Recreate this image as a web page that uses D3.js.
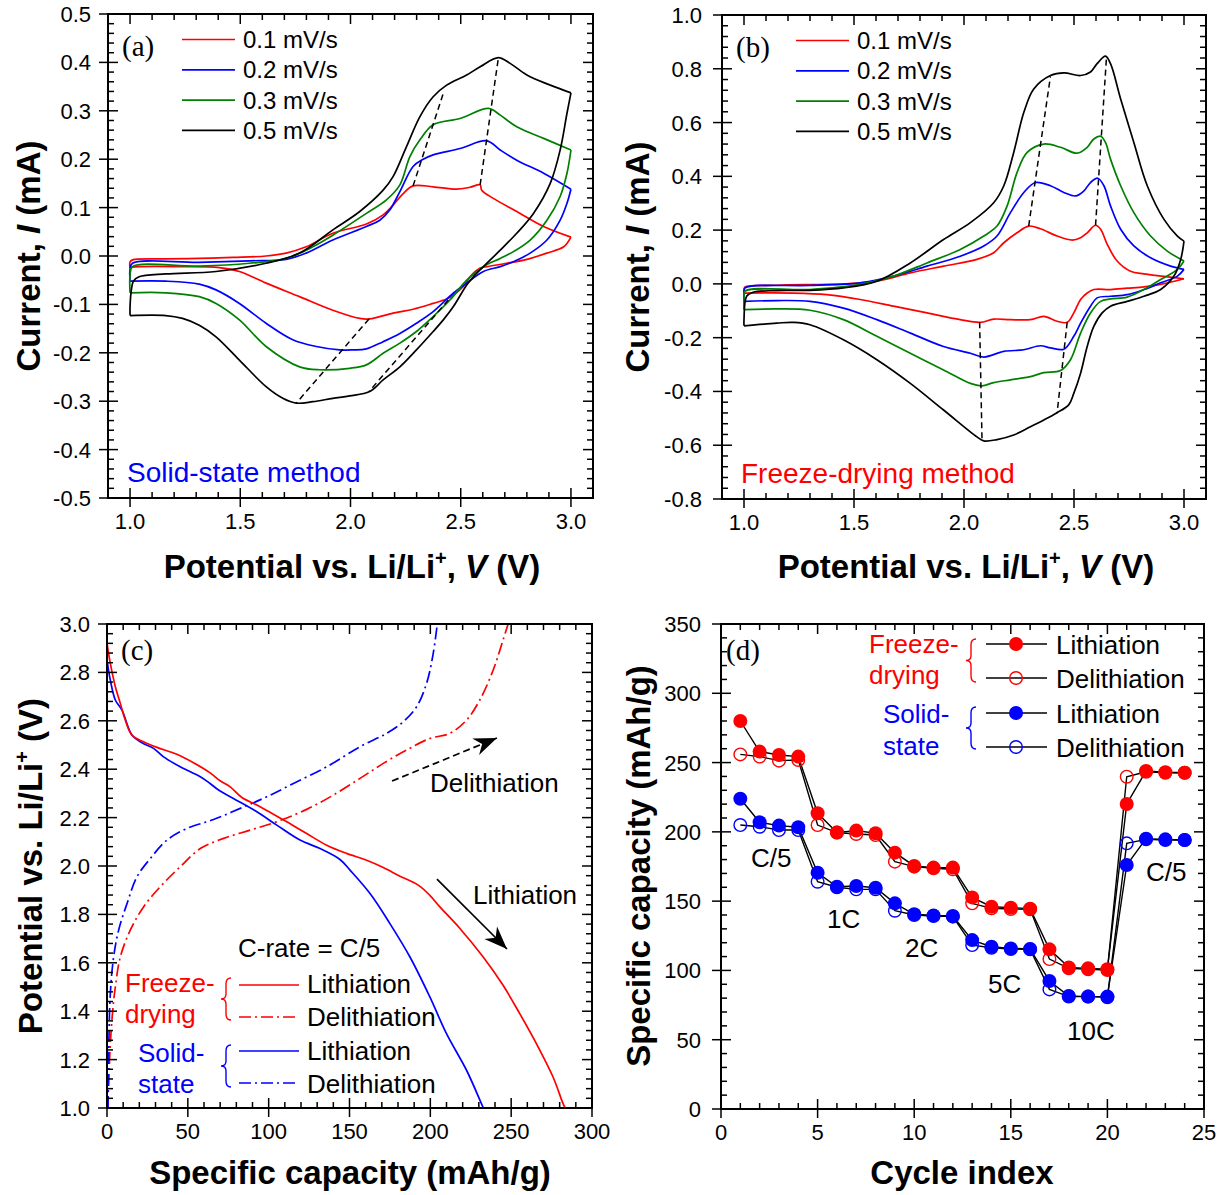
<!DOCTYPE html>
<html><head><meta charset="utf-8">
<script src="https://cdn.jsdelivr.net/npm/d3@7"></script>
<style>body{margin:0;background:#fff}svg{display:block}</style>
</head><body>
<script>
// ---------------- data ----------------
// Scan rates and colours shared by the two cyclic voltammetry panels
const scanLabels = ["0.1 mV/s", "0.2 mV/s", "0.3 mV/s", "0.5 mV/s"];
const scanColors = ["#ff0000", "#0000ff", "#008000", "#000000"];

// (a) solid-state method: [potential V, current mA], anodic (up) and cathodic (down) sweeps
const solidUp01 = [[1.000,-0.025],[1.000,-0.012],[1.011,-0.008],[1.162,-0.006],[1.314,-0.005],[1.466,-0.003],[1.617,0.000],[1.708,0.006],[1.799,0.019],[1.920,0.047],[2.072,0.066],[2.148,0.085],[2.193,0.105],[2.239,0.129],[2.284,0.145],[2.375,0.143],[2.481,0.138],[2.542,0.142],[2.588,0.147],[2.595,0.136],[2.648,0.119],[2.754,0.092],[2.876,0.061],[3.000,0.039]];
const solidDown01 = [[3.000,0.039],[2.967,0.019],[2.891,0.006],[2.800,-0.007],[2.709,-0.015],[2.618,-0.022],[2.588,-0.025],[2.542,-0.043],[2.512,-0.063],[2.466,-0.081],[2.436,-0.089],[2.375,-0.098],[2.284,-0.110],[2.193,-0.118],[2.087,-0.130],[2.042,-0.129],[1.920,-0.112],[1.769,-0.084],[1.617,-0.056],[1.496,-0.032],[1.405,-0.024],[1.238,-0.022],[1.011,-0.023],[1.000,-0.025]];
const solidUp02 = [[1.000,-0.052],[1.000,-0.028],[1.011,-0.015],[1.314,-0.013],[1.541,-0.010],[1.708,-0.007],[1.799,0.006],[1.920,0.033],[2.072,0.061],[2.133,0.074],[2.178,0.095],[2.224,0.133],[2.284,0.185],[2.330,0.200],[2.375,0.209],[2.497,0.222],[2.618,0.238],[2.679,0.219],[2.754,0.198],[2.876,0.171],[3.000,0.138]];
const solidDown02 = [[3.000,0.138],[2.982,0.109],[2.951,0.074],[2.891,0.033],[2.815,0.006],[2.739,-0.012],[2.679,-0.022],[2.603,-0.032],[2.527,-0.056],[2.466,-0.077],[2.375,-0.115],[2.299,-0.139],[2.224,-0.160],[2.148,-0.177],[2.072,-0.192],[2.011,-0.194],[1.951,-0.194],[1.845,-0.187],[1.738,-0.173],[1.617,-0.139],[1.496,-0.098],[1.390,-0.070],[1.314,-0.058],[1.162,-0.052],[1.000,-0.052]];
const solidUp03 = [[1.000,-0.076],[1.000,-0.040],[1.011,-0.022],[1.314,-0.021],[1.541,-0.015],[1.708,-0.005],[1.829,0.019],[1.920,0.043],[2.072,0.088],[2.163,0.116],[2.224,0.147],[2.269,0.205],[2.315,0.240],[2.375,0.271],[2.497,0.284],[2.626,0.305],[2.679,0.291],[2.754,0.267],[2.876,0.243],[3.000,0.219]];
const solidDown03 = [[3.000,0.219],[2.982,0.171],[2.951,0.123],[2.891,0.074],[2.815,0.033],[2.739,0.009],[2.679,-0.005],[2.603,-0.022],[2.527,-0.050],[2.451,-0.091],[2.375,-0.125],[2.299,-0.156],[2.224,-0.180],[2.148,-0.201],[2.072,-0.225],[1.996,-0.232],[1.860,-0.235],[1.769,-0.229],[1.617,-0.187],[1.496,-0.132],[1.390,-0.098],[1.314,-0.084],[1.162,-0.076],[1.000,-0.076]];
const solidUp05 = [[1.000,-0.123],[1.000,-0.105],[1.006,-0.070],[1.015,-0.052],[1.041,-0.043],[1.162,-0.037],[1.390,-0.032],[1.617,-0.015],[1.769,0.006],[1.920,0.054],[2.042,0.092],[2.148,0.136],[2.193,0.164],[2.254,0.226],[2.315,0.288],[2.375,0.329],[2.436,0.353],[2.527,0.374],[2.588,0.391],[2.671,0.410],[2.724,0.398],[2.800,0.374],[2.906,0.353],[3.000,0.337]];
const solidDown05 = [[3.000,0.337],[2.982,0.295],[2.951,0.219],[2.906,0.150],[2.830,0.088],[2.754,0.047],[2.679,0.012],[2.603,-0.022],[2.557,-0.043],[2.527,-0.060],[2.466,-0.105],[2.421,-0.132],[2.375,-0.156],[2.299,-0.194],[2.224,-0.229],[2.148,-0.256],[2.087,-0.280],[1.996,-0.289],[1.920,-0.294],[1.829,-0.301],[1.754,-0.304],[1.693,-0.294],[1.617,-0.270],[1.496,-0.215],[1.390,-0.167],[1.314,-0.143],[1.238,-0.129],[1.162,-0.123],[1.000,-0.123]];
// peak-shift guide lines
const solidGuides = [[[2.284,0.145],[2.421,0.336]],[[2.588,0.147],[2.671,0.410]],[[2.084,-0.130],[1.754,-0.304]],[[2.444,-0.091],[2.084,-0.280]]];

// (b) freeze-drying method
const fdUp01 = [[1.000,-0.034],[1.000,-0.020],[1.005,-0.011],[1.149,-0.005],[1.452,0.000],[1.604,0.010],[1.756,0.041],[1.907,0.066],[2.059,0.091],[2.135,0.116],[2.181,0.153],[2.241,0.190],[2.294,0.215],[2.347,0.205],[2.423,0.178],[2.492,0.163],[2.530,0.172],[2.560,0.190],[2.598,0.218],[2.621,0.203],[2.651,0.147],[2.696,0.085],[2.757,0.047],[2.818,0.037],[2.909,0.028],[3.000,0.019]];
const fdDown01 = [[3.000,0.019],[2.894,-0.002],[2.818,-0.011],[2.742,-0.016],[2.666,-0.021],[2.590,-0.021],[2.560,-0.034],[2.530,-0.058],[2.499,-0.108],[2.469,-0.143],[2.423,-0.139],[2.363,-0.121],[2.302,-0.133],[2.211,-0.133],[2.135,-0.131],[2.074,-0.143],[1.983,-0.133],[1.832,-0.108],[1.680,-0.083],[1.528,-0.058],[1.376,-0.040],[1.224,-0.034],[1.000,-0.034]];
const fdUp02 = [[1.000,-0.065],[1.000,-0.032],[1.005,-0.015],[1.300,-0.006],[1.528,0.004],[1.680,0.029],[1.832,0.066],[1.983,0.103],[2.090,0.141],[2.150,0.178],[2.211,0.265],[2.272,0.340],[2.325,0.377],[2.393,0.365],[2.454,0.340],[2.507,0.327],[2.545,0.346],[2.575,0.377],[2.608,0.393],[2.636,0.365],[2.666,0.290],[2.712,0.203],[2.772,0.141],[2.848,0.097],[2.939,0.066],[3.000,0.054]];
const fdDown02 = [[3.000,0.054],[2.970,0.029],[2.894,0.004],[2.818,-0.021],[2.742,-0.040],[2.666,-0.046],[2.605,-0.052],[2.575,-0.083],[2.530,-0.146],[2.499,-0.195],[2.454,-0.243],[2.393,-0.238],[2.347,-0.230],[2.272,-0.245],[2.181,-0.251],[2.090,-0.272],[2.029,-0.258],[1.907,-0.233],[1.756,-0.183],[1.604,-0.133],[1.452,-0.090],[1.300,-0.065],[1.149,-0.062],[1.000,-0.065]];
const fdUp03 = [[1.000,-0.096],[1.000,-0.052],[1.005,-0.027],[1.300,-0.021],[1.528,-0.002],[1.680,0.029],[1.832,0.078],[1.983,0.128],[2.090,0.178],[2.150,0.215],[2.196,0.290],[2.241,0.414],[2.287,0.489],[2.363,0.520],[2.439,0.508],[2.514,0.486],[2.560,0.508],[2.590,0.539],[2.621,0.549],[2.643,0.526],[2.666,0.464],[2.712,0.365],[2.772,0.265],[2.848,0.178],[2.924,0.122],[3.000,0.085]];
const fdDown03 = [[3.000,0.085],[2.970,0.054],[2.894,0.016],[2.818,-0.021],[2.742,-0.049],[2.666,-0.056],[2.621,-0.065],[2.575,-0.108],[2.530,-0.183],[2.484,-0.282],[2.439,-0.322],[2.363,-0.330],[2.302,-0.345],[2.211,-0.357],[2.135,-0.367],[2.082,-0.379],[2.029,-0.370],[1.907,-0.320],[1.756,-0.258],[1.604,-0.195],[1.452,-0.133],[1.300,-0.098],[1.149,-0.093],[1.000,-0.096]];
const fdUp05 = [[1.000,-0.156],[1.000,-0.133],[1.012,-0.046],[1.042,-0.031],[1.149,-0.025],[1.300,-0.024],[1.452,-0.015],[1.604,0.010],[1.756,0.078],[1.907,0.165],[2.029,0.228],[2.135,0.302],[2.181,0.365],[2.226,0.489],[2.272,0.638],[2.317,0.725],[2.393,0.775],[2.454,0.785],[2.530,0.775],[2.575,0.788],[2.605,0.819],[2.643,0.847],[2.666,0.819],[2.712,0.688],[2.772,0.526],[2.833,0.365],[2.909,0.240],[2.970,0.178],[3.000,0.159]];
const fdDown05 = [[3.000,0.159],[2.985,0.091],[2.954,0.029],[2.894,-0.021],[2.818,-0.046],[2.742,-0.065],[2.666,-0.083],[2.628,-0.108],[2.590,-0.158],[2.560,-0.233],[2.530,-0.332],[2.499,-0.407],[2.476,-0.450],[2.423,-0.479],[2.363,-0.506],[2.302,-0.531],[2.226,-0.562],[2.150,-0.579],[2.090,-0.584],[2.059,-0.569],[1.907,-0.469],[1.756,-0.370],[1.604,-0.282],[1.452,-0.208],[1.300,-0.152],[1.225,-0.143],[1.149,-0.146],[1.000,-0.156]];
const fdGuides = [[[2.294,0.215],[2.393,0.772]],[[2.598,0.218],[2.648,0.847]],[[2.071,-0.143],[2.082,-0.584]],[[2.469,-0.143],[2.423,-0.481]]];

// (c) C/5 charge-discharge profiles: [specific capacity mAh/g, potential V]
const fdLith = [[0,2.920],[2.06,2.837],[5.15,2.741],[8.24,2.672],[11.3,2.603],[15.4,2.541],[22.6,2.513],[30.9,2.490],[43.2,2.462],[53.5,2.427],[63.8,2.385],[70.0,2.352],[76.2,2.327],[83.4,2.283],[92.7,2.252],[103.0,2.214],[111.2,2.183],[123.5,2.134],[135.9,2.086],[148.2,2.052],[160.6,2.024],[170.9,1.994],[181.2,1.958],[192.5,1.921],[199.7,1.879],[205.9,1.831],[218.3,1.742],[232.7,1.624],[245.0,1.507],[255.3,1.390],[265.6,1.266],[275.9,1.128],[282.1,1.018],[283.4,1.000]];
const fdDelith = [[0.4,1.000],[1.2,1.130],[2.06,1.266],[3.5,1.400],[5.15,1.500],[8.24,1.624],[14.4,1.735],[22.6,1.831],[32.9,1.914],[45.3,1.997],[57.7,2.072],[72.1,2.114],[88.5,2.148],[105.0,2.183],[123.5,2.234],[140.0,2.293],[156.5,2.362],[170.9,2.424],[185.3,2.479],[199.7,2.527],[212.1,2.548],[222.4,2.603],[230.6,2.686],[238.9,2.810],[245.0,2.934],[248.1,3.000]];
const ssLith = [[0,2.851],[2.06,2.768],[5.15,2.686],[9.27,2.644],[15.4,2.541],[21.6,2.509],[28.8,2.486],[35.0,2.451],[45.3,2.410],[57.7,2.369],[63.8,2.341],[69.0,2.314],[78.2,2.279],[92.7,2.224],[105.0,2.169],[119.4,2.107],[131.8,2.072],[144.1,2.027],[150.3,1.983],[162.7,1.886],[175.0,1.762],[187.4,1.624],[199.7,1.459],[210.0,1.307],[222.4,1.156],[231.6,1.018],[232.8,1.000]];
const ssDelith = [[0.6,1.000],[1.1,1.250],[2.06,1.473],[4.1,1.624],[7.2,1.735],[12.4,1.845],[18.5,1.955],[26.8,2.031],[37.1,2.107],[49.4,2.155],[65.9,2.192],[82.4,2.238],[98.8,2.286],[115.3,2.341],[135.9,2.410],[156.5,2.493],[172.9,2.548],[183.2,2.596],[191.5,2.658],[197.7,2.755],[201.8,2.879],[204.3,3.000]];

// (d) rate capability, cycles 1-24: specific capacity (mAh/g)
const cycles = d3.range(1, 25);
const rateFdLith   = [280.0,257.9,255.5,254.3,213.4,199.5,200.9,199.0,185.0,175.4,174.2,174.2,152.7,146.0,145.3,144.6,115.2,102.2,101.5,100.8,220.1,243.9,243.0,242.7];
const rateFdDelith = [255.9,254.3,251.4,251.9,204.9,199.5,198.5,197.7,178.5,174.9,173.7,173.0,148.4,144.8,144.3,144.1,108.2,101.5,100.8,100.3,239.8,243.4,242.7,242.7];
const rateSsLith   = [223.9,206.9,204.5,203.3,170.5,160.4,160.9,159.7,148.4,140.5,139.7,139.3,121.9,117.1,115.9,115.5,92.4,81.5,81.1,81.1,176.1,195.1,194.6,194.1];
const rateSsDelith = [204.9,203.7,201.3,201.3,164.0,160.0,158.5,158.5,143.1,140.0,139.3,138.8,118.3,116.4,115.5,115.2,86.3,81.1,81.1,80.6,191.7,194.6,194.1,194.1];
const rateLabels = [["C/5",1.55,175],["1C",5.49,130.6],["2C",9.52,109.7],["5C",13.82,83.7],["10C",17.91,49.8],["C/5",22.0,164.5]];

// ---------------- drawing ----------------
const RED = "#ff0000", BLUE = "#0000ff";
const SANS = "'Liberation Sans', Arial, Helvetica, sans-serif";
const SERIF = "'Liberation Serif', 'Times New Roman', serif";

const svg = d3.select("body").append("svg")
  .attr("width", 1224).attr("height", 1195)
  .style("font-family", SANS);

svg.append("defs").append("marker")
  .attr("id", "stealth").attr("viewBox", "-24 -10 26 20")
  .attr("refX", 0).attr("refY", 0)
  .attr("markerWidth", 26).attr("markerHeight", 20)
  .attr("markerUnits", "userSpaceOnUse").attr("orient", "auto")
  .append("path").attr("d", "M0,0 L-23,-9 L-16,0 L-23,9 Z").attr("fill", "#000");

const steps = (a, b, s) => d3.range(Math.round((b - a) / s) + 1).map(i => +(a + i * s).toFixed(6));

// Box frame with ticks on all four sides (major ticks cross left/bottom)
function frame(x, y, o) {
  const g = svg.append("g");
  const [X0, X1] = x.range(), [Y0, Y1] = y.range();
  const seg = (x1, y1, x2, y2) => g.append("line")
    .attr("x1", x1).attr("y1", y1).attr("x2", x2).attr("y2", y2)
    .attr("stroke", "#000").attr("stroke-width", 1.5);
  const isMajor = (arr, v) => arr.some(m => Math.abs(m - v) < 1e-9);
  o.xMinor.filter(v => !isMajor(o.xMajor, v)).forEach(v => {
    const p = x(v); seg(p, Y0, p, Y0 - 6); seg(p, Y1, p, Y1 + 6);
  });
  o.yMinor.filter(v => !isMajor(o.yMajor, v)).forEach(v => {
    const p = y(v); seg(X0, p, X0 + 6, p); seg(X1, p, X1 - 6, p);
  });
  o.xMajor.forEach(v => {
    const p = x(v); seg(p, Y0 + 9, p, Y0 - 10); seg(p, Y1, p, Y1 + 10);
    g.append("text").attr("x", p).attr("y", Y0 + 31).attr("text-anchor", "middle")
      .attr("font-size", 22).text(o.xFmt(v));
  });
  o.yMajor.forEach(v => {
    const p = y(v); seg(X0 - 9, p, X0 + 10, p); seg(X1, p, X1 - 10, p);
    g.append("text").attr("x", X0 - o.yPad).attr("y", p + 8).attr("text-anchor", "end")
      .attr("font-size", 22).text(o.yFmt(v));
  });
  g.append("rect").attr("x", X0).attr("y", Y1).attr("width", X1 - X0).attr("height", Y0 - Y1)
    .attr("fill", "none").attr("stroke", "#000").attr("stroke-width", 2);
}

// Bold axis title built from [text, style] parts
function title(tx, ty, rot, parts) {
  const t = svg.append("text")
    .attr("transform", `translate(${tx},${ty}) rotate(${rot})`)
    .attr("text-anchor", "middle").attr("font-size", 33).attr("font-weight", "bold");
  parts.forEach(([s, kind]) => {
    const sp = t.append("tspan").text(s);
    if (kind === "i") sp.attr("font-style", "italic");
    if (kind === "sup") sp.attr("font-size", 20).attr("dy", -13);
    if (kind === "after") sp.attr("dy", 13);
  });
}

function brace(cx, y1, y2, color) {
  const ym = (y1 + y2) / 2;
  svg.append("path")
    .attr("d", `M${cx + 5},${y1} Q${cx},${y1} ${cx},${y1 + 6} L${cx},${ym - 5} Q${cx},${ym} ${cx - 5},${ym} Q${cx},${ym} ${cx},${ym + 5} L${cx},${y2 - 6} Q${cx},${y2} ${cx + 5},${y2}`)
    .attr("fill", "none").attr("stroke", color).attr("stroke-width", 1.4);
}

function panelTag(px, py, s) {
  svg.append("text").attr("x", px).attr("y", py).attr("font-family", SERIF)
    .attr("font-size", 29).text(s);
}

const fmt1 = v => v.toFixed(1);
const fmt0 = v => String(Math.round(v));

// ---- cyclic voltammetry panels (a) and (b) ----
function cvPanel(x, y, loops, guides, methodText, methodColor, tag) {
  const line = d3.line().x(d => x(d[0])).y(d => y(d[1])).curve(d3.curveCatmullRom.alpha(0.5));
  loops.forEach((branches, i) => branches.forEach(b =>
    svg.append("path").attr("d", line(b)).attr("fill", "none")
      .attr("stroke", scanColors[i]).attr("stroke-width", 1.7).attr("stroke-linejoin", "round")));
  const gl = d3.line().x(d => x(d[0])).y(d => y(d[1]));
  guides.forEach(gd => svg.append("path").attr("d", gl(gd)).attr("fill", "none")
    .attr("stroke", "#000").attr("stroke-width", 1.5).attr("stroke-dasharray", "6,4"));

  const [X0] = x.range(), [Y0, Y1] = y.range();
  scanLabels.forEach((lab, i) => {
    const ly = Y1 + 25.5 + i * 30.3;
    svg.append("line").attr("x1", X0 + 74).attr("x2", X0 + 127).attr("y1", ly).attr("y2", ly)
      .attr("stroke", scanColors[i]).attr("stroke-width", 1.7);
    svg.append("text").attr("x", X0 + 135).attr("y", ly + 8.5).attr("font-size", 24).text(lab);
  });
  svg.append("text").attr("x", X0 + 19).attr("y", Y0 - 16).attr("font-size", 28)
    .attr("fill", methodColor).text(methodText);
  panelTag(X0 + 14, Y1 + 42, tag);
}

const xA = d3.scaleLinear().domain([0.9, 3.1]).range([108, 593]);
const yA = d3.scaleLinear().domain([-0.5, 0.5]).range([498, 14]);
cvPanel(xA, yA, [[solidUp01, solidDown01], [solidUp02, solidDown02], [solidUp03, solidDown03], [solidUp05, solidDown05]],
  solidGuides, "Solid-state method", BLUE, "(a)");
frame(xA, yA, { xMajor: steps(1, 3, 0.5), xMinor: steps(1, 3, 0.1), yMajor: steps(-0.5, 0.5, 0.1),
  yMinor: steps(-0.5, 0.5, 0.02), xFmt: fmt1, yFmt: fmt1, yPad: 17 });

const xB = d3.scaleLinear().domain([0.9, 3.1]).range([722, 1206]);
const yB = d3.scaleLinear().domain([-0.8, 1.0]).range([499, 15]);
cvPanel(xB, yB, [[fdUp01, fdDown01], [fdUp02, fdDown02], [fdUp03, fdDown03], [fdUp05, fdDown05]],
  fdGuides, "Freeze-drying method", RED, "(b)");
frame(xB, yB, { xMajor: steps(1, 3, 0.5), xMinor: steps(1, 3, 0.1), yMajor: steps(-0.8, 1.0, 0.2),
  yMinor: steps(-0.8, 1.0, 0.04), xFmt: fmt1, yFmt: fmt1, yPad: 20 });

const cvXTitle = [["Potential vs. Li/Li"], ["+", "sup"], [", ", "after"], ["V", "i"], [" (V)"]];
title(352, 578, 0, cvXTitle);
title(966, 578, 0, cvXTitle);
const cvYTitle = [["Current, "], ["I", "i"], [" (mA)"]];
title(40, 256, -90, cvYTitle);
title(649, 257, -90, cvYTitle);

// ---- (c) charge-discharge profiles ----
const xC = d3.scaleLinear().domain([0, 300]).range([107, 592]);
const yC = d3.scaleLinear().domain([1, 3]).range([1108, 624]);
{
  const line = d3.line().x(d => xC(d[0])).y(d => yC(d[1])).curve(d3.curveCatmullRom.alpha(0.5));
  const dashDot = "12,4,2,4";
  [[fdDelith, RED, dashDot], [ssDelith, BLUE, dashDot], [ssLith, BLUE, null], [fdLith, RED, null]].forEach(([d, c, da]) => {
    const p = svg.append("path").attr("d", line(d)).attr("fill", "none").attr("stroke", c).attr("stroke-width", 1.7);
    if (da) p.attr("stroke-dasharray", da);
  });
  // direction arrows
  svg.append("line").attr("x1", xC(176.3)).attr("y1", yC(2.351)).attr("x2", xC(241.2)).attr("y2", yC(2.529))
    .attr("stroke", "#000").attr("stroke-width", 1.7).attr("stroke-dasharray", "7,4").attr("marker-end", "url(#stealth)");
  svg.append("line").attr("x1", xC(204.1)).attr("y1", yC(1.946)).attr("x2", xC(247.4)).attr("y2", yC(1.657))
    .attr("stroke", "#000").attr("stroke-width", 1.7).attr("marker-end", "url(#stealth)");
  svg.append("text").attr("x", xC(199.8)).attr("y", yC(2.306)).attr("font-size", 26).text("Delithiation");
  svg.append("text").attr("x", xC(226.4)).attr("y", yC(1.843)).attr("font-size", 26).text("Lithiation");

  // legend
  svg.append("text").attr("x", 238).attr("y", 957).attr("font-size", 26).text("C-rate = C/5");
  const rows = [[985, RED, null, "Lithiation", 993], [1017, RED, dashDot, "Delithiation", 1026],
                [1051, BLUE, null, "Lithiation", 1060], [1083, BLUE, dashDot, "Delithiation", 1093]];
  rows.forEach(([ly, c, da, lab, ty]) => {
    const l = svg.append("line").attr("x1", 239).attr("x2", 299).attr("y1", ly).attr("y2", ly)
      .attr("stroke", c).attr("stroke-width", 1.7);
    if (da) l.attr("stroke-dasharray", da);
    svg.append("text").attr("x", 307).attr("y", ty).attr("font-size", 26).text(lab);
  });
  [["Freeze-", 125, 992, RED], ["drying", 125, 1023, RED], ["Solid-", 138, 1062, BLUE], ["state", 138, 1093, BLUE]]
    .forEach(([s, tx, ty, c]) => svg.append("text").attr("x", tx).attr("y", ty).attr("font-size", 26).attr("fill", c).text(s));
  brace(226, 978, 1020, RED);
  brace(226, 1045, 1087, BLUE);
  panelTag(121, 660, "(c)");
}
frame(xC, yC, { xMajor: steps(0, 300, 50), xMinor: steps(0, 300, 10), yMajor: steps(1, 3, 0.2),
  yMinor: steps(1, 3, 0.04), xFmt: fmt0, yFmt: fmt1, yPad: 17 });
title(350, 1184, 0, [["Specific capacity (mAh/g)"]]);
title(42, 866, -90, [["Potential vs. Li/Li"], ["+", "sup"], [" (V)", "after"]]);

// ---- (d) rate capability ----
const xD = d3.scaleLinear().domain([0, 25]).range([721, 1204]);
const yD = d3.scaleLinear().domain([0, 350]).range([1109, 624]);
{
  const series = [
    [rateFdDelith, RED, false], [rateFdLith, RED, true],
    [rateSsDelith, BLUE, false], [rateSsLith, BLUE, true]];
  const line = d3.line().x((d, i) => xD(cycles[i])).y(d => yD(d));
  series.forEach(([vals]) => svg.append("path").attr("d", line(vals)).attr("fill", "none")
    .attr("stroke", "#000").attr("stroke-width", 1.4));
  series.forEach(([vals, c, filled]) => {
    svg.append("g").selectAll("circle").data(vals).join("circle")
      .attr("cx", (d, i) => xD(cycles[i])).attr("cy", d => yD(d))
      .attr("r", filled ? 7 : 6.3)
      .attr("fill", filled ? c : "none").attr("stroke", c).attr("stroke-width", filled ? 0 : 1.4);
  });
  rateLabels.forEach(([s, cx, cy]) => svg.append("text").attr("x", xD(cx)).attr("y", yD(cy))
    .attr("font-size", 26).text(s));

  // legend
  const rows = [[644, RED, true, "Lithiation", 654], [678, RED, false, "Delithiation", 688],
                [713, BLUE, true, "Lithiation", 723], [747, BLUE, false, "Delithiation", 757]];
  rows.forEach(([ly, c, filled, lab, ty]) => {
    svg.append("line").attr("x1", 986).attr("x2", 1047).attr("y1", ly).attr("y2", ly)
      .attr("stroke", "#000").attr("stroke-width", 1.4);
    svg.append("circle").attr("cx", 1016).attr("cy", ly).attr("r", filled ? 7 : 6.3)
      .attr("fill", filled ? c : "none").attr("stroke", c).attr("stroke-width", filled ? 0 : 1.4);
    svg.append("text").attr("x", 1056).attr("y", ty).attr("font-size", 26).text(lab);
  });
  [["Freeze-", 869, 653, RED], ["drying", 869, 684, RED], ["Solid-", 883, 723, BLUE], ["state", 883, 755, BLUE]]
    .forEach(([s, tx, ty, c]) => svg.append("text").attr("x", tx).attr("y", ty).attr("font-size", 26).attr("fill", c).text(s));
  brace(971, 639, 682, RED);
  brace(971, 707, 749, BLUE);
  panelTag(726, 660, "(d)");
}
frame(xD, yD, { xMajor: steps(0, 25, 5), xMinor: steps(0, 25, 1), yMajor: steps(0, 350, 50),
  yMinor: steps(0, 350, 10), xFmt: fmt0, yFmt: fmt0, yPad: 20 });
title(962, 1184, 0, [["Cycle index"]]);
title(650, 866, -90, [["Specific capacity (mAh/g)"]]);
</script>
</body></html>
